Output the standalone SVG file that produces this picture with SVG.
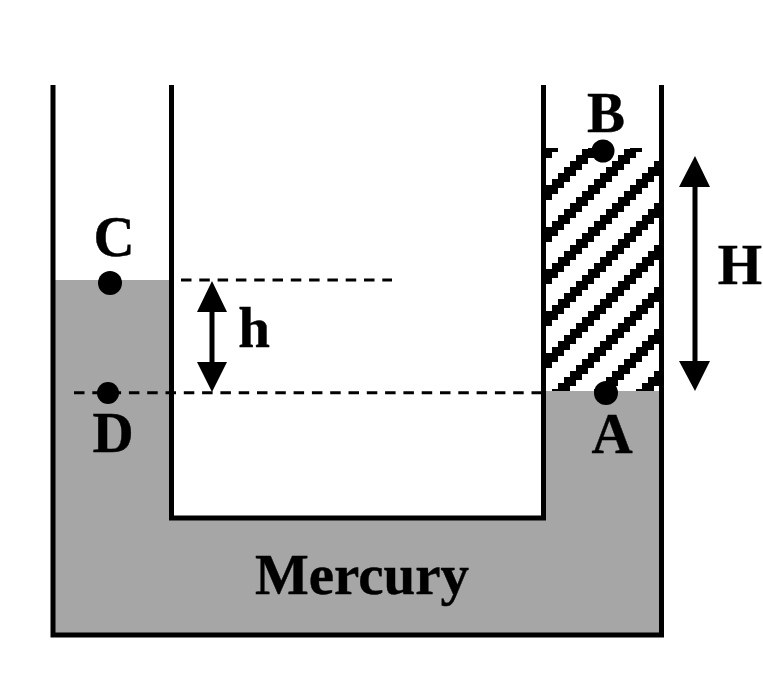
<svg xmlns="http://www.w3.org/2000/svg" width="763" height="696" viewBox="0 0 763 696">
<style>
.wall{fill:none;stroke:#000;stroke-width:5}
.dash{fill:none;stroke:#000;stroke-width:3;stroke-dasharray:10.500 7.800}
.shaft{fill:none;stroke:#000;stroke-width:5}
.dot{fill:#000}
.lbl{font-family:"Liberation Serif","Times New Roman",serif;font-weight:bold;font-size:57px;fill:#000;text-anchor:middle;stroke:#000;stroke-width:.4}
</style>
<defs>
<pattern id="hatch" patternUnits="userSpaceOnUse" width="42" height="42">
<path d="M0 17h6v15H0zM6 11h6v15H6zM12 5h6v15h-6zM18 0h6v14h-6zM18 41h6v1h-6zM24 35h6v7h-6zM24 0h6v8h-6zM30 29h6v13h-6zM30 0h6v2h-6zM36 23h6v15h-6z" fill="#000"/>
</pattern>
</defs>
<rect width="763" height="696" fill="#fff"/>
<g id="mercury"><path d="M53 280H171.500V518H543.500V391H661.500V635H53Z" fill="#a6a6a6"/></g>
<g id="gas"><rect x="545" y="148" width="115" height="243" fill="url(#hatch)"/></g>
<g id="tube">
<path class="wall" d="M53 85V635H661.500V85"/>
<path class="wall" d="M171.500 85V518H543.500V85"/>
</g>
<g id="connectors">
<path class="dash" d="M74 392.700H543"/>
<path class="dash" d="M181 280H392"/>
<path class="shaft" d="M212 305V370"/>
<path d="M212 281L197 312H227ZM212 392L197 362H227Z" fill="#000"/>
<path class="shaft" d="M695 180V368"/>
<path d="M695 156L679 187H710ZM695 391L679 361H710Z" fill="#000"/>
</g>
<g id="point-b"><circle class="dot" cx="603" cy="151" r="11.500"/><text class="lbl" x="606" y="132">B</text></g>
<g id="point-c"><circle class="dot" cx="110" cy="283" r="12"/><text class="lbl" x="114" y="256">C</text></g>
<g id="point-d"><circle class="dot" cx="108" cy="393" r="11"/><text class="lbl" x="113" y="452">D</text></g>
<g id="point-a"><circle class="dot" cx="606" cy="393" r="12"/><text class="lbl" x="612" y="453">A</text></g>
<g id="label-h"><text class="lbl" x="254" y="347">h</text></g>
<g id="label-H"><text class="lbl" x="740" y="284">H</text></g>
<g id="label-mercury"><text class="lbl" x="362" y="594">Mercury</text></g>
</svg>
